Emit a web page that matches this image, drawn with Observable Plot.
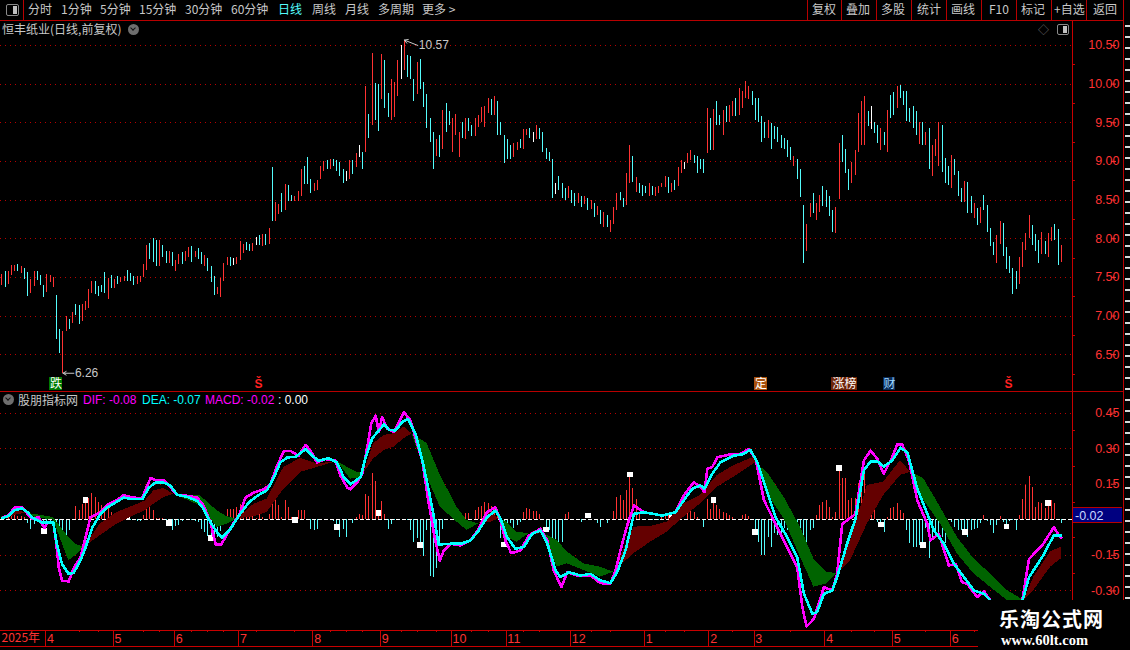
<!DOCTYPE html>
<html><head><meta charset="utf-8">
<script src="https://cdn.jsdelivr.net/npm/d3@7"></script>
<script src="https://cdn.jsdelivr.net/npm/@observablehq/plot@0.6"></script>
<style>
html,body{margin:0;background:#000;}
#stage{position:relative;width:1130px;height:650px;overflow:hidden;background:#000;font-family:"Noto Sans CJK SC","Liberation Sans",sans-serif;}
.t{position:absolute;white-space:nowrap;font-size:12px;line-height:14px;color:#c8c8c8;}
.l{position:absolute;background:#b80000;}
.n{font-family:"Liberation Sans",Arial,sans-serif;}
.chev{position:absolute;width:11px;height:11px;border-radius:50%;background:#6e6e6e;}
.chev:after{content:"";position:absolute;left:3px;top:2px;width:3px;height:3px;border:solid #111;border-width:0 1.5px 1.5px 0;transform:rotate(45deg);}
.box{position:absolute;box-sizing:border-box;border:1.5px solid #8a8a8a;border-radius:2px;}
.box:after{content:"";position:absolute;right:1px;top:1px;bottom:1px;width:40%;background:#c0c0c0;}
</style></head>
<body><div id="stage"></div>
<script>
// ---------- price pane ----------
const barHigh=[
7.54,7.57,7.57,7.65,7.65,7.67,7.64,7.61,7.56,7.47,
7.57,7.57,7.53,7.40,7.54,7.52,7.50,7.27,6.82,6.80,
7.00,6.95,7.04,7.15,7.13,7.15,7.19,7.34,7.45,7.45,
7.38,7.39,7.56,7.49,7.52,7.47,7.51,7.50,7.51,7.59,
7.55,7.51,7.51,7.51,7.67,7.91,7.94,8.00,7.98,7.98,
7.91,7.84,7.84,7.82,7.72,7.80,7.82,7.84,7.89,7.90,
7.84,7.88,7.82,7.78,7.75,7.64,7.51,7.37,7.49,7.68,
7.76,7.76,7.75,7.76,7.97,7.93,7.95,7.93,7.94,8.02,
8.04,8.06,8.06,8.13,8.92,8.47,8.44,8.58,8.70,8.69,
8.56,8.55,8.61,8.89,8.93,9.05,8.76,8.72,8.75,8.93,
9.00,9.01,9.02,9.02,9.01,8.98,8.89,8.87,9.01,9.01,
9.10,9.20,9.11,9.97,9.61,10.40,10.01,10.00,10.38,10.31,
9.88,10.06,10.02,10.31,10.50,10.57,10.37,10.36,10.06,10.28,
10.32,10.02,9.86,9.55,9.37,9.29,9.33,9.66,9.75,9.64,
9.56,9.61,9.37,9.51,9.55,9.55,9.47,9.55,9.59,9.70,
9.71,9.82,9.80,9.84,9.78,9.51,9.34,9.29,9.21,9.23,
9.24,9.28,9.41,9.41,9.43,9.37,9.46,9.42,9.38,9.17,
9.12,9.03,8.72,8.80,8.72,8.65,8.68,8.62,8.58,8.58,
8.55,8.55,8.52,8.50,8.45,8.42,8.36,8.34,8.30,8.23,
8.40,8.58,8.60,8.52,8.84,9.20,9.07,8.79,8.72,8.69,
8.68,8.72,8.68,8.66,8.67,8.72,8.81,8.79,8.72,8.75,
8.92,9.01,8.99,9.10,9.14,9.08,9.07,9.03,9.02,9.69,
9.56,9.67,9.77,9.59,9.66,9.71,9.72,9.77,9.81,9.94,
9.90,10.03,9.97,9.90,9.82,9.81,9.58,9.50,9.53,9.49,
9.45,9.44,9.34,9.30,9.27,9.18,9.07,9.03,8.90,8.43,
8.19,8.45,8.59,8.46,8.56,8.67,8.63,8.54,8.37,8.41,
9.23,9.34,9.15,8.89,8.98,9.14,9.62,9.77,9.84,9.64,
9.71,9.51,9.46,9.42,9.37,9.66,9.85,9.89,9.97,9.98,
9.91,9.90,9.68,9.71,9.64,9.50,9.50,9.38,9.42,9.20,
9.29,9.50,9.47,9.04,8.94,9.08,9.02,8.87,8.65,8.74,
8.73,8.54,8.46,8.39,8.41,8.56,8.43,8.13,7.95,8.04,
8.22,8.20,7.89,7.77,7.61,7.58,7.76,7.95,8.07,8.30,
8.17,8.06,7.98,8.08,7.96,8.07,8.15,8.19,8.12,7.91];
const barLow=[
7.40,7.37,7.41,7.53,7.58,7.57,7.55,7.47,7.25,7.29,
7.38,7.46,7.39,7.24,7.30,7.43,7.37,6.70,6.52,6.26,
6.80,6.82,6.90,7.01,6.89,6.93,7.07,7.10,7.29,7.28,
7.25,7.31,7.29,7.22,7.36,7.36,7.41,7.44,7.45,7.45,
7.45,7.39,7.41,7.43,7.50,7.59,7.73,7.69,7.64,7.64,
7.76,7.68,7.68,7.64,7.58,7.67,7.67,7.71,7.76,7.69,
7.76,7.73,7.67,7.64,7.58,7.44,7.27,7.28,7.24,7.45,
7.66,7.64,7.66,7.67,7.72,7.81,7.85,7.84,7.84,7.91,
7.91,7.90,7.91,7.93,8.22,8.22,8.31,8.34,8.37,8.48,
8.48,8.48,8.48,8.54,8.70,8.70,8.59,8.61,8.63,8.76,
8.87,8.89,8.89,8.94,8.87,8.80,8.72,8.74,8.76,8.83,
8.92,9.05,8.89,9.11,9.30,9.47,9.53,9.39,9.80,9.68,
9.57,9.53,9.57,9.84,10.06,10.17,10.08,10.06,9.78,9.87,
9.93,9.70,9.42,9.24,8.89,9.06,9.05,9.16,9.37,9.46,
9.11,9.33,9.05,9.30,9.29,9.39,9.32,9.32,9.44,9.50,
9.44,9.62,9.59,9.59,9.34,9.33,8.97,9.03,9.02,9.05,
9.14,9.17,9.16,9.33,9.30,9.24,9.29,9.28,9.11,9.02,
9.00,8.52,8.57,8.63,8.52,8.50,8.52,8.46,8.42,8.46,
8.40,8.44,8.36,8.38,8.28,8.30,8.19,8.15,8.14,8.08,
8.19,8.37,8.50,8.40,8.43,8.71,8.73,8.60,8.59,8.54,
8.58,8.55,8.56,8.54,8.58,8.66,8.66,8.58,8.60,8.63,
8.67,8.85,8.89,8.97,9.01,8.97,8.85,8.90,8.85,9.10,
9.14,9.14,9.46,9.46,9.34,9.50,9.51,9.58,9.58,9.59,
9.68,9.81,9.80,9.72,9.53,9.50,9.25,9.30,9.30,9.15,
9.29,9.24,9.17,9.15,9.05,9.01,8.94,8.77,8.53,7.68,
7.84,8.27,8.32,8.24,8.34,8.42,8.41,8.29,8.08,8.07,
8.51,8.99,8.85,8.62,8.72,8.82,9.12,9.20,9.20,9.45,
9.41,9.36,9.23,9.14,9.21,9.12,9.56,9.60,9.68,9.81,
9.72,9.52,9.50,9.43,9.33,9.22,9.21,9.20,8.89,8.81,
9.06,8.94,8.86,8.71,8.69,8.65,8.82,8.55,8.47,8.47,
8.32,8.33,8.26,8.17,8.20,8.37,8.08,7.90,7.78,7.68,
7.93,7.77,7.60,7.55,7.28,7.34,7.41,7.63,7.85,8.00,
7.91,7.84,7.68,7.80,7.80,7.76,7.96,7.98,7.65,7.69];
const barKind=["RCRRRCRCCR","RCCCRRRCCR","RCRCCRRRRC","CCCRCRCRRC","CCRRRRCCCR","CCRCRRCRRC","RCCRCCCRRR","RCWRRRCCRW","CRCRCRRCRC","CRRRCCCRRR","RCRCCCCWRC","RWCRCRCCRC","CRRRWRCCCR","CCCCCRCRCC","RRRCRCCRRR","RRCRCCCCCR","RCRRCWRCCC","CCWCCCRCCR","CRCRCRCRCR","RRCCRRCRCC","CRCRRRRCRC","RRWRRCCCCR","CRCCRCRRCR","RRRCCCCCRC","CCCCCCRCCC","RRCRRCCCCR","RCCCRRRRRC","WCCRCRCCRC","CCCCCRCRCR","RRCCCRCCCR","CCRCRCCCCR","RCCCCCRRRR","CCCRCRRCCR"].join("");
const priceTicks=[10.5,10,9.5,9,8.5,8,7.5,7,6.5];
const priceMinor=[10.25,9.75,9.25,8.75,8.25,7.75,7.25,6.75,6.25];
const eventStart=[14.8,233.8,257.7,273.8];
const eventEnd=[18.9,237.8,265.7,277.6];
const eventLabel=["跌","定","涨榜","财"];
const eventBg=["#007a00","#a8500c","#6e2408","#0a2a55"];
const eventFg=["#ffffff","#ffffff","#ffffff","#9fd8ff"];
const dollarIdx=[79.7,312.6];
const noteIdx=[22.4,129.2];
const noteTip=[19,125];
const notePrice=[6.26,10.57];
const noteLevel=[6.26,10.50];
const noteText=["6.26","10.57"];

// ---------- MACD pane ----------
const difI=[0,2.2,4,6.3,8.1,9.4,11.5,12.5,13.3,14.1,16,16.7,17.7,18.7,20.8,22.4,24.4,26,27.5,29.1,30.6,32.7,35.3,37.9,40.5,43.6,44.9,46.2,48.2,50.3,52.4,54.5,57.6,60.7,62.7,64.8,66.4,68.1,70,72.1,73.6,75.7,78.3,81.4,83.4,85.5,87.6,89.6,92.2,94.3,95.9,97.9,100.5,103.6,105.2,107.3,108.3,110.4,111.9,113.5,114.7,116.1,117.1,118.1,119.7,121.8,124.9,126.9,129,130.6,132.1,134.2,136,137.3,139.4,142.5,145.6,148.1,150.7,153.3,154.9,156.4,158.2,161.1,163.7,167.3,169.4,171.4,173.8,175.6,178.7,182.8,185.9,189,190.6,192.1,194.2,196.3,199.4,205.1,209.2,211.8,214.9,217,218.2,219.1,220.6,222.2,226.8,229.4,232,234.1,236.7,240.3,243.9,247,248.6,249.9,252.2,255.3,257.9,259.4,261,263.1,265.1,267.7,269.8,271.9,273.9,276.5,278.1,279.6,281.7,284.3,287.4,288.4,291,294.1,296.2,298.2,299.8,302.9,305,307,310.2,314.3,316.9,319,323.1,326.7,328.3,329];
const difV=[.007,.021,.052,.052,.024,.006,.010,-.018,-.035,-.011,-.011,-.075,-.201,-.257,-.260,-.201,-.159,-.075,.010,.021,.031,.063,.080,.104,.094,.091,.136,.176,.165,.167,.136,.105,.101,.094,.059,-.011,-.103,-.105,-.060,-.011,.017,.094,.115,.129,.150,.228,.291,.291,.270,.316,.291,.242,.256,.249,.186,.136,.129,.159,.194,.307,.405,.440,.370,.433,.384,.370,.454,.419,.321,.250,.110,-.059,-.172,-.129,-.101,-.108,-.087,-.038,.032,.053,-.003,-.087,-.141,-.129,-.066,-.038,-.087,-.214,-.284,-.221,-.235,-.235,-.267,-.270,-.214,-.129,-.024,.060,.032,.018,.032,.103,.159,.138,.117,.215,.222,.264,.278,.278,.299,.257,.082,-.017,-.115,-.200,-.368,-.450,-.418,-.284,-.298,-.228,-.017,.004,.025,.250,.292,.257,.194,.264,.318,.318,.250,.082,-.017,-.087,-.059,-.193,-.186,-.263,-.270,-.326,-.302,-.340,-.368,-.39,-.340,-.165,-.108,-.031,-.066,-.075];
const deaI=[0,2.2,4,6.3,8.1,9.4,12.5,16,17,18.7,20.8,22.4,24.4,26,28.1,30.6,32.7,35.3,37.9,40.5,43.6,45.7,47.7,50.3,52.4,54.5,57.6,60.7,62.7,64.8,66.9,68.4,71,73.6,76.7,79.3,82.4,84.5,86.5,88.6,91.2,94.3,96.4,98.4,101.5,104.1,106.2,108.3,111.4,113,115,116.6,118.7,120.2,122.3,124.3,126.1,128.5,130.6,132.6,134.2,135.7,139.4,142.5,145.6,148.1,150.7,153.3,154.9,156.9,159.5,162.1,164.7,167.3,169.4,172,173.5,176.1,179.7,182.8,185.9,189,191.1,193.7,196.3,199.4,205.1,209.2,211.8,214.4,217,218.2,220.6,223.2,227.4,229.9,232.5,234.6,237.7,240.3,243.9,247,249.1,251.7,253.2,255.3,257.9,259.4,262.5,265.1,267.7,269.8,271.9,273.9,276.5,279.1,281.2,284.3,287.4,289.5,292.6,295.7,298.8,301.9,305,307,312.2,316.4,319,323.1,326.7,329];
const deaV=[.007,.017,.041,.048,.031,.010,-.011,-.011,-.096,-.187,-.229,-.222,-.173,-.117,-.032,.024,.052,.073,.094,.087,.087,.136,.157,.157,.143,.105,.097,.080,.045,-.011,-.053,-.075,-.039,.017,.073,.101,.125,.179,.242,.263,.266,.298,.270,.249,.260,.242,.179,.150,.180,.264,.342,.370,.402,.380,.377,.412,.426,.363,.250,.124,.011,-.104,-.101,-.101,-.087,-.045,.011,.039,.004,-.073,-.122,-.115,-.059,-.045,-.101,-.214,-.242,-.221,-.235,-.228,-.256,-.267,-.221,-.129,.025,.032,.018,.032,.082,.131,.145,.131,.194,.243,.271,.276,.295,.243,.117,.011,-.073,-.157,-.312,-.396,-.389,-.312,-.298,-.242,-.101,.004,.208,.247,.247,.225,.250,.304,.285,.131,.025,-.045,-.101,-.186,-.242,-.298,-.312,-.340,-.382,-.368,-.242,-.157,-.066,-.066];
const bandI=[0,1.9,4.8,7.4,11,16,20.8,22.9,25.5,30.6,35.8,41,44.6,47.2,50.3,53.4,61.7,66.9,70,73.1,78.3,82.4,87.6,92.8,98,104.1,108.3,110.4,112.4,115.5,118.7,121.8,124.9,127.4,132.1,136.2,141.4,144.5,148.1,151.8,154.4,156.9,160,163.7,165.7,168.1,172.5,175.6,180.8,185.9,190,196.3,201.5,206.6,211.8,217,222.2,227.4,233.6,234.4,237.7,242.9,248,252.2,256.3,259.4,263.6,268.8,273.9,279.1,282.2,286.3,291.5,296.7,301.9,307,312.2,317.4,320.5,325.7,329];
const bandFast=[.007,.010,.041,.028,.006,.001,-.173,-.152,-.117,-.018,.031,.059,.080,.122,.132,.108,.059,-.032,-.018,.003,.066,.087,.221,.259,.235,.246,.172,.173,.197,.321,.356,.363,.391,.363,.180,.053,-.010,-.045,-.017,.032,.004,-.073,-.094,-.059,-.045,-.056,-.200,-.186,-.214,-.242,-.221,-.031,-.028,-.010,.067,.103,.187,.229,.264,.236,.110,.004,-.157,-.284,-.270,-.228,-.087,.145,.159,.250,.201,.082,-.017,-.143,-.228,-.284,-.340,-.340,-.242,-.136,-.115];
const bandSlow=[.015,.010,.021,.028,.021,.010,-.075,-.103,-.117,-.067,-.018,.017,.038,.066,.094,.108,.101,.038,.013,.003,.013,.031,.129,.200,.221,.246,.214,.201,.197,.257,.292,.307,.342,.363,.321,.187,.053,-.003,-.017,-.010,.004,-.010,-.052,-.059,-.062,-.056,-.087,-.136,-.186,-.200,-.221,-.143,-.094,-.052,.011,.067,.138,.180,.236,.236,.201,.096,-.031,-.165,-.221,-.228,-.172,-.017,.103,.187,.201,.173,.053,-.073,-.165,-.228,-.298,-.340,-.298,-.200,-.165];
const macdHist=[
0,0,.008,.017,.021,.015,.012,.01,-.014,-.04,
-.018,-.005,-.01,-.035,-.01,-.005,-.003,-.02,-.06,-.075,
-.075,-.045,.002,.055,.04,.066,.08,.092,.112,.094,
.073,.06,.04,.052,.03,.01,.005,.01,.002,.002,
-.003,-.004,-.006,-.006,.017,.066,.05,.04,.007,.007,
.007,-.005,-.012,-.045,-.03,-.025,-.007,.001,.003,-.004,
-.007,-.011,-.04,-.055,-.07,-.088,-.109,-.075,-.05,-.004,
.042,.042,.045,.05,.066,.038,.03,.04,.038,.006,
.024,.01,.003,.021,.066,.08,.059,.01,.083,.052,
.01,.003,.04,.04,.04,.002,-.04,-.046,-.04,.002,
.003,0,0,-.005,-.018,-.075,-.04,-.075,-.002,-.014,
.011,.021,.018,.107,.098,.195,.162,.025,.077,.022,
-.04,-.02,-.002,0,.001,-.002,-.003,-.045,-.094,-.08,
-.10,-.154,-.045,-.238,-.242,-.207,-.108,-.042,-.002,0,
.002,0,-.002,.002,.025,.028,.003,.04,.053,.056,
.073,.067,.056,.046,.032,-.08,-.108,-.045,-.017,-.038,
-.024,-.01,.032,.049,.044,.034,.035,.021,.002,-.052,
-.045,-.094,-.094,-.094,-.094,.021,.031,.002,.001,-.002,
-.013,0,.001,-.002,0,-.017,-.031,-.004,-.017,.002,
.035,.096,.101,.081,.124,.188,.132,.086,.025,.002,
.001,-.002,-.002,.002,-.002,.011,.014,.018,.006,-.002,
.001,.002,-.002,.025,.039,.032,.011,0,-.031,.084,
.042,.079,.06,.042,.032,.025,.018,.008,.002,.002,
.018,.022,.014,.002,-.052,-.094,-.15,-.15,-.073,-.115,
-.059,-.066,-.073,-.038,-.045,-.031,-.094,-.05,-.045,-.087,
-.094,-.045,-.038,.018,.06,.074,.081,.05,.01,.032,
.214,.173,.173,.081,.088,.088,.152,.152,.194,.01,
.032,.06,-.01,-.017,-.052,.008,.046,.053,.067,.039,
.025,-.045,-.101,-.115,-.115,-.108,-.108,-.038,-.164,-.073,
-.059,-.066,-.073,-.101,-.003,-.01,-.031,-.045,-.045,-.052,
-.073,-.045,-.041,-.038,-.017,.018,-.006,-.024,-.059,-.024,
.014,-.01,-.031,-.006,-.003,-.045,.018,.086,.145,.183,
.138,.053,.074,.07,.046,.074,.081,.067,.002,-.014];
const squareI=[13,26,39,52,65,78,91,104,117,130,156,169,182,195,208,221,234,247,260,273,286,299,312,325];
const squareV=[-.046,.084,.015,-.015,-.075,.04,.001,-.03,.028,-.108,-.104,-.041,.018,.191,.01,.082,-.052,-.087,.218,-.02,-.108,-.052,-.028,.07];
const macdTicks=[.45,.3,.15,-.15,-.3];
const macdMinor=[.375,.225,.075,-.075,-.225];

// ---------- time axis ----------
const monthIdx=[14,35,54,74,97,118,140,157,177,200,220,234,256,277,295];
const monthLabel=["4","5","6","7","8","9","10","11","12","1","2","3","4","5","6"];
const weekIdx=[24,30,44,49,59,64,69,79,91,102,107,112,124,129,135,146,151,162,167,183,189,206,212,227,245,264,271,287,302];

// ---------- toolbar text ----------
const leftTabs=[["分时",28],["1分钟",61],["5分钟",100],["15分钟",139],["30分钟",185],["60分钟",231],["日线",278],["周线",312],["月线",345],["多周期",378],["更多 >",422]];
const rightTabs=[["复权",812],["叠加",846],["多股",881],["统计",917],["画线",951],["F10",989],["标记",1021],["+自选",1054],["返回",1093]];
const rightSeps=[807,841,876,911,946,981,1016,1051,1086,1123];

const RED="#ff3232",CYAN="#54fcfc",GRID="#b80000",AXIS="#c80000",DIM="#c8c8c8";
const kindColor={R:RED,C:CYAN,W:"#ffffff"};
const xDomain=[-0.404,332.5];
const stage=document.getElementById("stage");
const base={width:1130,marginLeft:0,marginRight:58,marginTop:0,marginBottom:0,
  x:{domain:xDomain,axis:null},color:{type:"identity"},
  style:{background:"transparent",fontFamily:"'Liberation Sans',Arial,sans-serif",fontSize:"12.5px",overflow:"visible"}};
const crisp={shapeRendering:"crispEdges"};
function place(svg,top){svg.style.position="absolute";svg.style.left="0";svg.style.top=top+"px";stage.appendChild(svg);}

// top pane
const barIdx=d3.range(barHigh.length);
const evIdx=d3.range(eventLabel.length);
const noteIx=d3.range(noteText.length);
place(Plot.plot({...base,height:370,y:{domain:[6.024,10.81],range:[370,0],axis:null},marks:[
  Plot.ruleY(priceTicks,{stroke:GRID,strokeDasharray:"1,4",...crisp}),
  Plot.ruleX(barIdx,{x:i=>i,y1:i=>barLow[i],y2:i=>barHigh[i],stroke:i=>kindColor[barKind[i]],strokeWidth:1,...crisp}),
  Plot.arrow(noteIx,{x1:i=>noteIdx[i],y1:i=>noteLevel[i],x2:i=>noteTip[i],y2:i=>notePrice[i],stroke:DIM,strokeWidth:1,headLength:6,bend:0}),
  Plot.text(noteIx,{x:i=>noteIdx[i],y:i=>noteLevel[i],text:i=>noteText[i],fill:DIM,textAnchor:"start",dx:1,fontSize:12}),
  Plot.rect(evIdx,{x1:i=>eventStart[i],x2:i=>eventEnd[i],y1:6.205,y2:6.037,fill:i=>eventBg[i],...crisp}),
  Plot.text(evIdx,{x:i=>(eventStart[i]+eventEnd[i])/2,y:6.121,text:i=>eventLabel[i],fill:i=>eventFg[i],fontFamily:"Noto Sans CJK SC",fontSize:12}),
  Plot.text(dollarIdx,{x:d=>d,y:6.125,text:()=>"Š",fill:"#ff2020",fontWeight:"bold",fontSize:12}),
  Plot.axisY({anchor:"right",ticks:priceMinor,tickSize:2,tickFormat:()=>"",color:AXIS,...crisp}),
  Plot.axisY({anchor:"right",ticks:priceTicks,tickSize:5,color:RED,tickFormat:d=>d.toFixed(2),textAnchor:"end",dx:38}),
  Plot.ruleX([332.5],{stroke:AXIS,...crisp})
]}),21);

// MACD pane
const histIdx=d3.range(macdHist.length);
const zipLine=(a,b)=>a.map((d,i)=>[d,b[i]]);
const bandRows=bandI.map((d,i)=>({i:d,fast:bandFast[i],slow:bandSlow[i]}));
place(Plot.plot({...base,height:239,y:{domain:[-.467,.5414],range:[239,0],axis:null},marks:[
  Plot.ruleY([...macdTicks],{stroke:GRID,strokeDasharray:"1,4",...crisp}),
  Plot.ruleX(histIdx.filter(i=>macdHist[i]!==0),{x:i=>i,y1:0,y2:i=>macdHist[i],stroke:i=>macdHist[i]>0?RED:CYAN,strokeWidth:1,...crisp}),
  Plot.ruleY([0],{stroke:"#ffffff",strokeDasharray:"4,2",strokeWidth:1,...crisp}),
  Plot.dot(squareI.map((d,i)=>[d,squareV[i]]),{x:"0",y:"1",symbol:"square",r:3.3,fill:"#ffffff",...crisp}),
  Plot.areaY(bandRows,{x:"i",y1:"slow",y2:d=>Math.max(d.fast,d.slow),fill:"#640000",clip:true,...crisp}),
  Plot.areaY(bandRows,{x:"i",y1:"slow",y2:d=>Math.min(d.fast,d.slow),fill:"#006400",clip:true,...crisp}),
  Plot.line(zipLine(difI,difV),{x:"0",y:"1",stroke:"#ff00ff",strokeWidth:2.6,clip:true,...crisp}),
  Plot.line(zipLine(deaI,deaV),{x:"0",y:"1",stroke:"#00ffff",strokeWidth:2.6,clip:true,...crisp}),
  Plot.axisY({anchor:"right",ticks:macdMinor,tickSize:2,tickFormat:()=>"",color:AXIS,...crisp}),
  Plot.axisY({anchor:"right",ticks:macdTicks,tickSize:5,color:RED,tickFormat:d=>d.toFixed(2),textAnchor:"end",dx:38}),
  Plot.ruleX([332.5],{stroke:AXIS,...crisp})
]}),391);

// time axis
place(Plot.plot({...base,height:17,y:{domain:[0,1],range:[16,0],axis:null},marks:[
  Plot.ruleY([0,1],{x1:-0.404,x2:303.3,stroke:AXIS,...crisp}),
  Plot.ruleX(monthIdx,{x:d=>d-0.4,y1:0,y2:1,stroke:AXIS,...crisp}),
  Plot.ruleX(weekIdx,{x:d=>d,y1:.85,y2:1,stroke:AXIS,...crisp}),
  Plot.text(monthIdx,{x:d=>d,y:.5,text:(d,i)=>monthLabel[i],fill:RED,textAnchor:"start",fontSize:12.5}),
  Plot.text(["2025年"],{x:-0.1,y:.5,text:d=>d,fill:RED,textAnchor:"start",fontFamily:"Noto Sans CJK SC",fontSize:12})
]}),630);

// chrome
function div(cls,css,txt){const e=document.createElement("div");e.className=cls;e.style.cssText=css;if(txt!=null)e.textContent=txt;stage.appendChild(e);return e;}
div("l","left:0;top:20px;width:1123px;height:1px");
div("l","left:23px;top:0;width:1px;height:20px");
div("box","left:6px;top:4px;width:13px;height:12px");
leftTabs.forEach(([s,x])=>div("t",`left:${x}px;top:2px;color:${s==="日线"?"#54fcfc":DIM}`,s));
rightTabs.forEach(([s,x])=>div("t",`left:${x}px;top:2px`,s));
rightSeps.forEach(x=>div("l",`left:${x}px;top:0;width:1px;height:20px`));
div("t","left:2px;top:22px;font-size:12px","恒丰纸业(日线,前复权)");
div("chev","left:128px;top:24px");
div("t","left:1038px;top:22px;font-size:11px;color:#777","◇");
div("box","left:1057px;top:24px;width:12px;height:11px");
div("l","left:0;top:391px;width:1123px;height:1px");
div("chev","left:3px;top:394px");
div("t","left:18px;top:393px;font-size:12px","股朋指标网");
div("t n","left:83px;top:393px;color:#ff00ff","DIF: -0.08");
div("t n","left:142px;top:393px;color:#00ffff","DEA: -0.07");
div("t n","left:205px;top:393px;color:#ff00ff","MACD: -0.02");
div("t n","left:278px;top:393px;color:#ffffff",": 0.00");
div("t n","left:1073px;top:507px;width:49px;height:16px;line-height:16px;padding-left:2px;box-sizing:border-box;background:#000080;color:#c8d8ff;font-size:12.5px;border-top:1px solid #b80000;border-bottom:1px solid #b80000","-0.02");
// right strip
div("l","left:1123px;top:0;width:1px;height:600px");
div("","position:absolute;left:1125px;top:25px;width:5px;height:575px;background:repeating-linear-gradient(180deg,#d8d8d8 0,#d8d8d8 2px,#000 2px,#000 11px)");
// watermark
div("","position:absolute;left:978px;top:600px;width:152px;height:50px;background:#000");
div("t","left:999px;top:607px;font-size:20px;line-height:24px;font-weight:700;color:#fff;letter-spacing:1px","乐淘公式网");
div("t","left:1001px;top:632px;font-family:'Liberation Serif',serif;font-size:14.5px;line-height:16px;font-weight:700;color:#fff","www.60lt.com");
</script></body></html>
